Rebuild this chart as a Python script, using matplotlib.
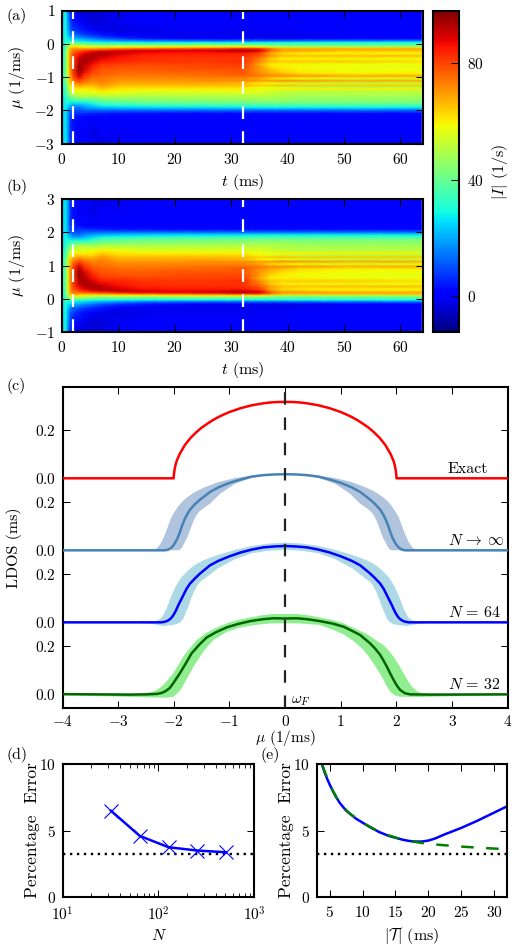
import numpy as np
import matplotlib
matplotlib.use("Agg")
import matplotlib.pyplot as plt
from matplotlib.ticker import NullFormatter, LogLocator

plt.rcParams.update({
    'font.family': ['cmr10', 'DejaVu Serif'], 'mathtext.fontset': 'cm', 'font.size': 11.5,
    'xtick.labelsize': 11, 'ytick.labelsize': 11,
    'axes.unicode_minus': False, 'axes.formatter.use_mathtext': True,
    'lines.scale_dashes': False, 'xtick.direction': 'in', 'ytick.direction': 'in',
    'xtick.top': True, 'ytick.right': True, 'axes.linewidth': 1.5,
    'xtick.major.size': 5, 'ytick.major.size': 5, 'xtick.minor.size': 2.6, 'ytick.minor.size': 2.6,
    'xtick.major.width': .75, 'ytick.major.width': .75, 'xtick.minor.width': .6,
    'ytick.major.pad': 5,
})

# ---------- heat map values |I|; panel (b) is its mirror image
t_grid = [0.2, 0.6, 1, 1.5, 2, 3, 4, 5.5, 7, 10, 14, 20, 26, 32, 35, 37, 39, 42, 50, 63.7]
mu_grid = [1.0, .7, .4, .25, .15, .06, .02, -.05, -.1, -.15, -.2, -.25, -.3, -.37, -.45, -.54, -.62, -.7, -.8,
           -.9, -.97, -1.05, -1.12, -1.19, -1.26, -1.32, -1.37, -1.45, -1.55, -1.65, -1.75, -1.85, -1.92,
           -2.0, -2.1, -2.2, -2.4, -2.7, -3.0]
current = [
 [24,30,18, 6, 2,-3,-4,-4,-3,-1, 0, 0, 0, 0, 0, 0, 0, 0, 0, 0],
 [24,30,20, 8, 3, 1,-2,-4,-3,-1, 0, 0, 0, 0, 0, 0, 0, 0, 0, 0],
 [25,30,22,12, 8, 5, 3, 0,-2,-3,-2,-1,-1,-1,-1,-1,-1, 0, 0, 0],
 [25,31,25,17,14,12, 9, 7, 4, 1,-1,-2,-2,-2,-2,-2,-2,-2, 0, 0],
 [26,32,28,24,22,20,18,15,12, 8, 4, 2, 1, 0,-1,-1,-1,-1, 0, 0],
 [26,33,32,31,30,28,27,25,24,22,20,19,18,18,18,18,18,19,20,20],
 [27,34,36,38,40,38,36,34,32,32,30,30,31,30,30,32,32,32,32,32],
 [28,36,42,52,52,50,48,46,44,44,43,44,45,44,42,40,39,38,38,38],
 [28,37,46,60,62,60,58,56,56,58,58,60,60,60,58,54,50,50,50,50],
 [28,38,50,66,70,68,68,68,70,72,74,76,78,82,80,72,66,66,66,66],
 [28,39,52,68,74,76,78,80,82,86,88,88,90,93,90,78,70,70,68,68],
 [29,39,54,70,76,80,84,88,91,91,89,87,87,90,86,72,66,65,62,62],
 [29,40,54,71,78,84,88,92,93,90,86,85,85,85,80,68,63,60,60,59],
 [29,40,56,72,80,87,92,94,92,87,84,83,83,83,78,70,66,65,66,66],
 [29,40,56,72,81,90,94,92,88,85,83,82,82,82,74,64,60,60,59,58],
 [30,40,56,72,81,92,94,89,85,84,82,82,82,83,72,66,64,64,64,62],
 [30,40,56,72,81,94,92,86,82,81,80,80,80,81,68,60,60,60,58,58],
 [30,40,56,72,82,95,91,84,80,79,78,79,80,80,70,62,60,58,58,57],
 [30,40,56,72,82,96,89,81,78,77,77,78,78,78,70,66,62,60,58,58],
 [30,40,56,71,81,93,85,79,77,76,75,76,76,78,72,68,66,62,60,60],
 [30,40,55,70,80,90,82,77,76,74,74,74,76,76,74,72,72,70,68,68],
 [30,40,54,68,77,85,79,74,74,72,72,72,72,72,68,62,60,58,56,56],
 [30,40,52,66,74,80,76,72,74,70,70,70,72,72,70,70,72,70,68,68],
 [30,38,50,64,70,74,72,70,72,68,68,68,68,66,60,58,56,54,52,52],
 [29,38,48,61,66,69,67,66,70,66,66,66,66,66,64,64,66,64,64,64],
 [29,36,46,58,63,65,63,63,67,63,63,63,63,63,58,56,54,52,50,50],
 [28,36,44,55,60,60,60,61,64,61,60,60,60,60,58,58,60,60,60,60],
 [28,35,42,52,56,56,56,58,60,58,56,56,56,56,56,54,52,50,50,50],
 [27,33,38,46,50,52,54,52,54,53,52,52,52,52,52,52,50,50,50,50],
 [26,31,34,38,40,44,44,42,46,46,46,47,47,48,48,48,48,46,46,46],
 [25,30,30,30,30,32,30,36,38,40,42,42,43,43,44,44,44,44,44,44],
 [25,28,27,22,20,20,22,26,30,32,33,35,35,36,36,36,36,36,36,36],
 [24,28,24,18,16,14,18,20,22,24,25,26,26,27,28,28,28,28,28,28],
 [24,27,22,12,10,10,13,13,14,14,14,14,14,14,14,14,14,14,14,14],
 [23,27,20, 9, 6, 7, 6, 5, 4, 3, 3, 2, 2, 2, 2, 2, 2, 2, 2, 2],
 [23,27,20, 8, 4, 3, 1, 1, 2, 1, 1, 1, 1, 1, 1, 1, 1, 1, 1, 1],
 [23,27,20, 7, 3, 0, 2,-1, 1, 0, 0, 0, 0, 0, 0, 0, 0, 0, 0, 0],
 [23,27,20, 7, 3,-1, 1,-3, 0,-1, 0, 0, 0, 0, 0, 0, 0, 0, 0, 0],
 [23,27,20, 7, 3,-2, 2,-1,-3, 0, 0, 0, 0, 0, 0, 0, 0, 0, 0, 0],
]
cbar_ticks = [0, 40, 80]
cbar_min, cbar_max = -12.4, 98.0
guide_times = [2, 32]

# ---------- LDOS curves, right half mirrored where symmetric
exact_mu = [0, .1, .2, .3, .4, .5, .6, .7, .8, .9, 1, 1.1, 1.2, 1.3, 1.4, 1.5, 1.6, 1.7, 1.8, 1.9, 1.95, 1.97, 1.99, 2, 2.001, 4]
exact_val = [.318, .318, .317, .315, .312, .308, .304, .298, .292, .284, .276, .266, .255, .242, .227, .211, .191,
             .168, .139, .099, .071, .055, .032, .01, 0, 0]

inf_mu = [0, .2, .4, .6, .8, 1.0, 1.2, 1.35, 1.53, 1.62, 1.71, 1.76, 1.8, 1.85, 1.89, 1.93, 1.98, 2.03, 2.07, 2.11, 2.16, 2.25, 4]
inf_val = [.317, .316, .313, .307, .295, .281, .262, .243, .211, .192, .169, .150, .132, .104, .076, .052, .03, .014, .007, .002, 0, 0, 0]
inf_hi_mu = [0, .3, .6, .9, 1.2, 1.35, 1.47, 1.59, 1.68, 1.77, 1.85, 1.92, 1.98, 2.04, 2.09, 2.13, 2.18, 2.22, 2.27, 2.31, 2.37, 4]
inf_hi = [.318, .317, .311, .301, .284, .271, .26, .247, .234, .219, .203, .183, .163, .139, .109, .083, .055, .035, .018, .007, 0, 0]
inf_lo_mu = [0, .3, .6, .9, 1.17, 1.35, 1.45, 1.53, 1.59, 1.64, 1.71, 1.76, 1.8, 1.85, 1.89, 1.93, 4]
inf_lo = [.315, .312, .302, .277, .235, .194, .178, .164, .147, .125, .083, .052, .035, .012, .002, 0, 0]

n64_mu = [0, .2, .4, .6, .8, 1, 1.2, 1.35, 1.53, 1.62, 1.71, 1.77, 1.83, 1.87, 1.92, 1.96, 2.01, 2.05, 2.1, 2.15, 2.22, 4]
n64_val = [.318, .316, .312, .303, .291, .275, .256, .2375, .203, .183, .161, .14, .1125, .094, .071, .05, .029, .017, .008, .003, 0, 0]
n64_hi_mu = [0, .3, .6, .9, 1.2, 1.35, 1.47, 1.59, 1.68, 1.77, 1.85, 1.92, 1.98, 2.04, 2.09, 2.13, 2.18, 2.22, 2.28, 2.34, 2.5, 4]
n64_hi = [.332, .328, .318, .302, .281, .269, .258, .244, .229, .21, .191, .168, .143, .1125, .082, .057, .034, .019, .009, .003, 0, 0]
n64_lo_mu = [0, .3, .6, .9, 1.2, 1.35, 1.45, 1.53, 1.59, 1.64, 1.69, 1.74, 1.78, 1.83, 1.88, 1.95, 2.05, 2.19, 2.4, 2.7, 4]
n64_lo = [.302, .298, .288, .263, .226, .199, .182, .168, .15, .126, .098, .064, .043, .015, .001, -.008, -.012, -.015, -.006, -.002, -.002]

n32_mu = [-4, -2.8, -2.49, -2.3, -2.22, -2.15, -2.07, -2.0, -1.89, -1.8, -1.68, -1.55, -1.41, -1.25, -1.05, -.85, -.63, -.4, -.21, 0,
          .21, .4, .63, .85, 1.05, 1.2, 1.35, 1.53, 1.62, 1.71, 1.77, 1.83, 1.89, 1.95, 2.01, 2.07, 2.15, 2.25, 2.6, 4]
n32_val = [.001, -.001, 0, .002, .006, .013, .027, .05, .088, .123, .171, .205, .237, .258, .279, .293, .305, .313, .317, .316,
           .317, .313, .305, .295, .282, .265, .247, .212, .19, .164, .14, .115, .086, .06, .036, .018, .005, 0, -.001, 0]
n32_hi_mu = [-4, -2.6, -2.37, -2.28, -2.19, -2.1, -2.01, -1.92, -1.83, -1.7, -1.59, -1.41, -1.25, -1.05, -.85, -.63, -.4, -.21, 0,
             .21, .4, .63, .85, 1.05, 1.25, 1.47, 1.62, 1.77, 1.86, 1.95, 2.04, 2.13, 2.2, 2.28, 2.35, 2.43, 2.7, 4]
n32_hi = [.003, .003, .011, .022, .039, .062, .088, .122, .157, .195, .226, .257, .276, .296, .31, .32, .33, .335, .335,
          .335, .33, .32, .31, .296, .275, .251, .228, .205, .183, .157, .124, .088, .058, .032, .017, .007, .002, .002]
n32_lo_mu = [-4, -2.5, -2.15, -2.01, -1.93, -1.86, -1.79, -1.71, -1.62, -1.53, -1.41, -1.29, -1.05, -.85, -.63, -.4, -.21, 0,
             .21, .4, .63, .87, 1.05, 1.23, 1.41, 1.5, 1.59, 1.66, 1.74, 1.8, 1.89, 1.97, 2.07, 2.43, 4]
n32_lo = [-.004, -.012, -.014, -.01, .006, .025, .055, .088, .125, .157, .195, .226, .26, .276, .286, .293, .296, .296,
          .296, .293, .289, .268, .25, .222, .185, .158, .129, .102, .074, .045, .011, -.004, -.01, -.011, -.003]

# ---------- panels (d), (e)
n_values = [32, 64, 128, 256, 512]
n_error = [6.5, 4.6, 3.75, 3.5, 3.37]
limit_error = 3.25
tau_values = [3.84, 4.2, 4.6, 5, 5.5, 6, 6.5, 7, 7.5, 8, 9, 10, 11, 12.5, 14, 15, 16, 17, 18, 19, 20, 21, 22.5, 25, 27.5, 30, 32]
tau_error = [9.95, 9.4, 8.9, 8.45, 7.95, 7.5, 7.1, 6.8, 6.5, 6.3, 5.9, 5.6, 5.3, 4.9, 4.6, 4.47, 4.33, 4.23, 4.18, 4.18, 4.25, 4.4, 4.72, 5.2, 5.75, 6.35, 6.83]
tau_fit = [3.84, 5, 6, 7, 8, 10, 12.5, 15, 17, 18, 20, 22.5, 25, 27.5, 30, 32]
err_fit = [9.95, 8.45, 7.5, 6.8, 6.3, 5.6, 4.9, 4.47, 4.23, 4.15, 4.0, 3.9, 3.8, 3.72, 3.65, 3.6]

W, H = 516, 950
fig = plt.figure(figsize=(W / 100, H / 100), dpi=100, facecolor='white')


def px_axes(x0, y0, x1, y1, **kw):
    return fig.add_axes([x0 / W, 1 - y1 / H, (x1 - x0) / W, (y1 - y0) / H], **kw)


def place_xlabel(ax, text, x, y, **kw):
    box = ax.get_position()
    ax.set_xlabel(text, va='center', ha='center', **kw)
    ax.xaxis.set_label_coords((x / W - box.x0) / box.width, ((1 - y / H) - box.y0) / box.height)


def place_ylabel(ax, text, x, y, **kw):
    box = ax.get_position()
    ax.set_ylabel(text, va='center', ha='center', **kw)
    ax.yaxis.set_label_coords((x / W - box.x0) / box.width, ((1 - y / H) - box.y0) / box.height)


def letter(s, x, y):
    fig.text(x / W, 1 - y / H, s, ha='left', va='center', fontsize=11.5)


def math_labels(vals, fmt='{:g}'):
    return ['$' + fmt.format(v) + '$' for v in vals]


def mirrored(x, y):
    x, y = np.asarray(x), np.asarray(y)
    return np.r_[-x[::-1], x[1:]], np.r_[y[::-1], y[1:]]


Z = np.array(current, float)
mu_arr = np.array(mu_grid)
T = np.array(t_grid)
guide = dict(color='white', lw=1.6, dashes=(9.2, 8.8))
mesh = None
for box, sign, ylim, yt, ly in [
        ((62, 10.5, 423, 143.5), 1, (-3, 1), [-3, -2, -1, 0, 1], 182),
        ((62, 199, 423, 332), -1, (-1, 3), [-1, 0, 1, 2, 3], 370)]:
    ax = px_axes(*box)
    mesh = ax.pcolormesh(T, sign * mu_arr, Z, shading='gouraud', cmap='jet', vmin=cbar_min, vmax=cbar_max)
    for g in guide_times:
        ax.axvline(g, **guide)
    ax.set_xlim(0, 64)
    ax.set_ylim(*ylim)
    ax.set_xticks(range(0, 61, 10), math_labels(range(0, 61, 10)))
    ax.set_yticks(yt, math_labels(yt))
    ax.tick_params(axis='x', pad=6)
    place_xlabel(ax, r'$t$ (ms)', 243, ly)
    place_ylabel(ax, r'$\mu$ (1/ms)', 17, (box[1] + box[3]) / 2)
letter('(a)', 6, 16)
letter('(b)', 6, 187)

cax = px_axes(433, 11, 459, 332)
cb = fig.colorbar(mesh, cax=cax, ticks=cbar_ticks)
cb.ax.set_yticklabels(math_labels(cbar_ticks))
cb.ax.tick_params(direction='in', length=5.7, width=.75, right=True, left=False, pad=6)
cb.outline.set_linewidth(1.5)
place_ylabel(cb.ax, r'$|I|$ (1/s)', 500, 172)

# panel (c)
ax = px_axes(62.5, 387.3, 507.7, 708.3)


def ldos(offset, mu, val, hi_mu, hi, lo_mu, lo, line, band):
    ax.fill(np.r_[hi_mu, np.asarray(lo_mu)[::-1]], np.r_[hi, np.asarray(lo)[::-1]] + offset,
            color=band, lw=0, zorder=2)
    ax.plot(mu, np.asarray(val) + offset, color=line, lw=1.8, zorder=3)


em, ev = mirrored(exact_mu, exact_val)
ax.plot(em, np.asarray(ev) + .9, color='red', lw=1.8, zorder=3)
ldos(.6, *mirrored(inf_mu, inf_val), *mirrored(inf_hi_mu, inf_hi), *mirrored(inf_lo_mu, inf_lo), '#4682b4', '#b0c4de')
ldos(.3, *mirrored(n64_mu, n64_val), *mirrored(n64_hi_mu, n64_hi), *mirrored(n64_lo_mu, n64_lo), 'blue', '#add8e6')
ldos(0, n32_mu, n32_val, n32_hi_mu, n32_hi, n32_lo_mu, n32_lo, '#006400', '#90ee90')
ax.axvline(0, color='#222222', lw=1.6, dashes=(9, 9.2), zorder=4)
ax.set_xlim(-4, 4)
ax.set_ylim(-.058, 1.279)
xt = list(range(-4, 5))
ax.set_xticks(xt, math_labels(xt))
ax.set_yticks([0, .2, .3, .5, .6, .8, .9, 1.1], ['$0.0$', '$0.2$'] * 4)
ax.tick_params(axis='x', pad=4)
for y, s in [(.91, 'Exact'), (.61, r'$N\,\rightarrow\,\infty$'), (.31, r'$N\,=\,64$'), (.01, r'$N\,=\,32$')]:
    ax.text(2.92, y, s, ha='left', va='bottom', zorder=5)
ax.text(.11, -.03, r'$\omega_F$', ha='left', va='center', zorder=5, fontsize=11)
place_xlabel(ax, r'$\mu$ (1/ms)', 285, 738.5, fontsize=11)
place_ylabel(ax, 'LDOS (ms)', 14, 548)
letter('(c)', 6, 386)

# panel (d)
dots = dict(color='black', lw=1.7, dashes=(1.7, 3.3))
ax = px_axes(62.7, 764.3, 254, 897)
ax.set_xscale('log')
ax.axhline(limit_error, **dots)
ax.plot(n_values, n_error, color='blue', lw=1.8, marker='x', ms=9.5, mew=.8)
ax.set_xlim(10, 1000)
ax.set_ylim(0, 10)
ax.set_xticks([10, 100, 1000], ['$10^{1}$', '$10^{2}$', '$10^{3}$'])
ax.xaxis.set_minor_locator(LogLocator(base=10, subs=range(2, 10), numticks=12))
ax.xaxis.set_minor_formatter(NullFormatter())
ax.set_yticks([0, 5, 10], math_labels([0, 5, 10]))
ax.tick_params(axis='x', pad=6)
place_xlabel(ax, r'$N$', 159, 936)
place_ylabel(ax, 'Percentage  Error', 32, 830, fontsize=12.5)
letter('(d)', 6, 755)

# panel (e)
ax = px_axes(316.7, 764.3, 507, 897)
ax.axhline(limit_error, **dots)
ax.plot(tau_values, tau_error, color='blue', lw=1.8, zorder=2)
ax.plot(tau_fit, err_fit, color='green', lw=1.8, dashes=(9, 9), zorder=2.5)
ax.set_xlim(3, 32)
ax.set_ylim(0, 10)
xt = [5, 10, 15, 20, 25, 30]
ax.set_xticks(xt, math_labels(xt))
ax.set_yticks([0, 5, 10], math_labels([0, 5, 10]))
ax.tick_params(axis='x', pad=6)
place_xlabel(ax, r'$|\mathcal{T}|$ (ms)', 412, 936)
place_ylabel(ax, 'Percentage  Error', 286, 830, fontsize=12.5)
letter('(e)', 261, 755)

fig.savefig('out.png', dpi=100)
